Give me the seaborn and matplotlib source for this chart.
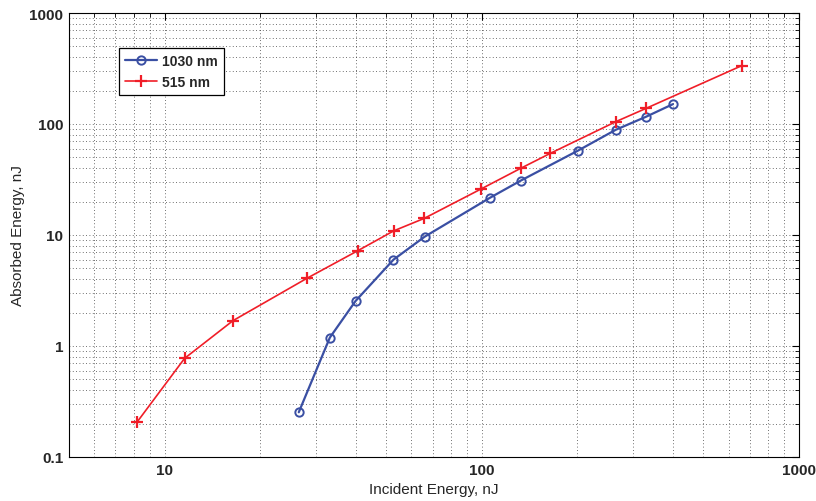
import numpy as np
import pandas as pd
import matplotlib
matplotlib.use("Agg")
import matplotlib.pyplot as plt
import seaborn as sns
from matplotlib.ticker import LogLocator, FixedLocator, FixedFormatter, NullFormatter

# ==========================================
# Data
# ==========================================
blue_label = "1030 nm"
blue_incident = [26.5, 33.2, 40.0, 52.7, 66.1, 106, 132.7, 200.9, 264.7, 329, 400.5]
blue_absorbed = [0.253, 1.19, 2.54, 6.0, 9.66, 21.6, 30.9, 57.5, 88.8, 116, 151]

red_label = "515 nm"
red_incident = [8.18, 11.57, 16.43, 28.1, 40.6, 52.8, 65.8, 99.3, 132.7, 164.7, 264.7, 329, 659.5]
red_absorbed = [0.205, 0.774, 1.69, 4.07, 7.2, 10.9, 14.1, 25.9, 39.9, 54.5, 105, 138, 335]

x_ticks = [10, 100, 1000]
x_tick_labels = ["10", "100", "1000"]
y_ticks = [0.1, 1, 10, 100, 1000]
y_tick_labels = ["0.1", "1", "10", "100", "1000"]

blue_color = "#3a4fa3"
red_color = "#f01e28"

# ==========================================
# Plot
# ==========================================
sns.set_style("white")
plt.rcParams["font.family"] = ["Liberation Sans", "DejaVu Sans"]

fig = plt.figure(figsize=(8.16, 5.02), dpi=100)
ax = fig.add_axes([69 / 816, 44 / 502, 730 / 816, 444 / 502])

blue_df = pd.DataFrame({"x": blue_incident, "y": blue_absorbed})
red_df = pd.DataFrame({"x": red_incident, "y": red_absorbed})

sns.lineplot(data=blue_df, x="x", y="y", ax=ax, color=blue_color, lw=1.6,
             marker="o", markersize=6, markerfacecolor="none",
             markeredgecolor=blue_color, markeredgewidth=1.4, label=blue_label,
             sort=False)
sns.lineplot(data=red_df, x="x", y="y", ax=ax, color=red_color, lw=1.2,
             marker="+", markersize=8, markeredgewidth=1.6,
             markeredgecolor=red_color, label=red_label, sort=False)

ax.set_xscale("log")
ax.set_yscale("log")
ax.set_xlim(5, 1000)
ax.set_ylim(0.1, 1000)

ax.xaxis.set_major_locator(FixedLocator(x_ticks))
ax.xaxis.set_major_formatter(FixedFormatter(x_tick_labels))
ax.yaxis.set_major_locator(FixedLocator(y_ticks))
ax.yaxis.set_major_formatter(FixedFormatter(y_tick_labels))
ax.xaxis.set_minor_locator(LogLocator(base=10, subs=np.arange(2, 10), numticks=20))
ax.yaxis.set_minor_locator(LogLocator(base=10, subs=np.arange(2, 10), numticks=20))
ax.xaxis.set_minor_formatter(NullFormatter())
ax.yaxis.set_minor_formatter(NullFormatter())

ax.grid(True, which="both", color="black", linestyle=(0, (1, 3)), linewidth=0.6, alpha=0.75)
ax.tick_params(which="both", direction="in", top=True, right=True, color="black")
ax.tick_params(which="major", length=5, width=0.8, labelsize=11, pad=4)
ax.tick_params(which="minor", length=3, width=0.6)
for lab in ax.get_xticklabels() + ax.get_yticklabels():
    lab.set_fontweight("bold")
for spine in ax.spines.values():
    spine.set_color("black")
    spine.set_linewidth(0.8)

ax.set_xlabel("Incident Energy, nJ", fontsize=11, labelpad=4)
ax.set_ylabel("Absorbed Energy, nJ", fontsize=11, labelpad=3)

leg = ax.legend(loc="upper left", bbox_to_anchor=(0.068, 0.921), borderaxespad=0,
                fancybox=False, edgecolor="black", framealpha=1,
                prop={"weight": "bold", "size": 10}, handlelength=2.3,
                borderpad=0.45, labelspacing=0.45, handletextpad=0.35)
leg.get_frame().set_linewidth(0.9)

fig.savefig("out.png", dpi=100)
plt.close(fig)
